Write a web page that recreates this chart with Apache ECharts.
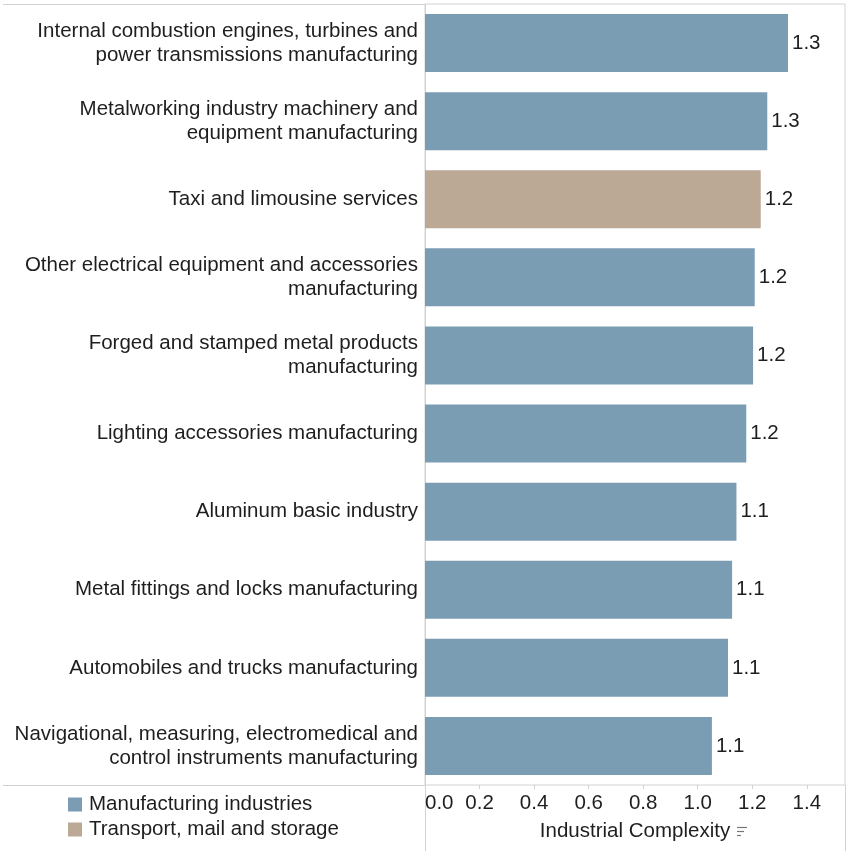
<!DOCTYPE html>
<html>
<head>
<meta charset="utf-8">
<script src="https://cdn.jsdelivr.net/npm/echarts@6/dist/echarts.min.js"></script>
<style>
	html, body { margin: 0; padding: 0; background: #fff; }
	#chart { width: 851px; height: 851px; }
</style>
</head>
<body>
<div id="chart"></div>
<script>
var industries = [
	"Internal combustion engines, turbines and\npower transmissions manufacturing",
	"Metalworking industry machinery and\nequipment manufacturing",
	"Taxi and limousine services",
	"Other electrical equipment and accessories\nmanufacturing",
	"Forged and stamped metal products\nmanufacturing",
	"Lighting accessories manufacturing",
	"Aluminum basic industry",
	"Metal fittings and locks manufacturing",
	"Automobiles and trucks manufacturing",
	"Navigational, measuring, electromedical and\ncontrol instruments manufacturing",
];
var complexity = [1.331, 1.255, 1.231, 1.209, 1.203, 1.178, 1.142, 1.126, 1.111, 1.052];
var sector = ["M", "M", "T", "M", "M", "M", "M", "M", "M", "M"];
var sectorNames = { M: "Manufacturing industries", T: "Transport, mail and storage" };
var sectorColors = { M: "#7b9db4", T: "#bba996" };

const txtColor = '#1e1e1e';
const lineColor = '#d2d2d2';
const fs = 20.5;

function seriesFor(key) {
	var data = [];
	for (var i = 0; i < complexity.length; i++) {
		data.push(sector[i] == key ? complexity[i] : '-');
	}
	return {
		name: sectorNames[key],
		type: 'bar',
		stack: 'all',
		barWidth: 58,
		data: data,
		itemStyle: { color: sectorColors[key] },
		label: {
			show: true,
			position: 'right',
			distance: 4,
			fontSize: fs,
			color: txtColor,
			fontFamily: 'Liberation Sans',
			formatter: function(p) { return p.value.toFixed(1); }
		},
		emphasis: { disabled: true },
	};
}

var myChart = echarts.init(document.getElementById('chart'));
var option = {
	animation: false,
	textStyle: { fontFamily: 'Liberation Sans' },
	grid: {
		left: 425, right: 6, top: 4, bottom: 66,
		show: true, borderColor: lineColor, borderWidth: 1,
	},
	legend: {
		orient: 'vertical',
		left: 63,
		top: 789,
		icon: 'rect',
		itemWidth: 14,
		itemHeight: 14,
		itemGap: 4,
		selectedMode: false,
		textStyle: { fontSize: fs, color: txtColor, fontFamily: 'Liberation Sans', padding: [0, 0, 0, 2] },
		data: [sectorNames.M, sectorNames.T],
	},
	xAxis: {
		type: 'value',
		min: 0,
		max: 1.54,
		interval: 0.2,
		name: 'Industrial Complexity',
		nameLocation: 'middle',
		nameGap: 36,
		nameTextStyle: { fontSize: fs, color: txtColor },
		axisLine: { show: false },
		axisTick: { show: true, length: 4, lineStyle: { color: lineColor } },
		splitLine: { show: false },
		axisLabel: {
			fontSize: fs,
			color: txtColor,
			margin: 8,
			showMaxLabel: false,
			alignMinLabel: 'left',
			formatter: function(v) { return v.toFixed(1); }
		},
	},
	yAxis: {
		type: 'category',
		inverse: true,
		data: industries,
		axisLine: { show: true, lineStyle: { color: lineColor } },
		axisTick: { show: false },
		axisLabel: {
			fontSize: fs,
			color: txtColor,
			lineHeight: 24,
			margin: 7,
			align: 'right',
		},
	},
	graphic: [
		{ type: 'line', shape: { x1: 3, y1: 4.5, x2: 425, y2: 4.5 }, style: { stroke: lineColor, lineWidth: 1 } },
		{ type: 'line', shape: { x1: 3, y1: 785.5, x2: 425, y2: 785.5 }, style: { stroke: lineColor, lineWidth: 1 } },
		{ type: 'line', shape: { x1: 425.5, y1: 785, x2: 425.5, y2: 851 }, style: { stroke: lineColor, lineWidth: 1 } },
		{ type: 'line', shape: { x1: 845.5, y1: 785, x2: 845.5, y2: 851 }, style: { stroke: lineColor, lineWidth: 1 } },
		// sort glyph next to the axis title
		{ type: 'line', shape: { x1: 737, y1: 827.5, x2: 747, y2: 827.5 }, style: { stroke: '#777', lineWidth: 1.2 } },
		{ type: 'line', shape: { x1: 737, y1: 831.5, x2: 744, y2: 831.5 }, style: { stroke: '#777', lineWidth: 1.2 } },
		{ type: 'line', shape: { x1: 737, y1: 835.5, x2: 741, y2: 835.5 }, style: { stroke: '#777', lineWidth: 1.2 } },
	],
	series: [seriesFor('M'), seriesFor('T')],
};
option && myChart.setOption(option);
</script>
</body>
</html>
